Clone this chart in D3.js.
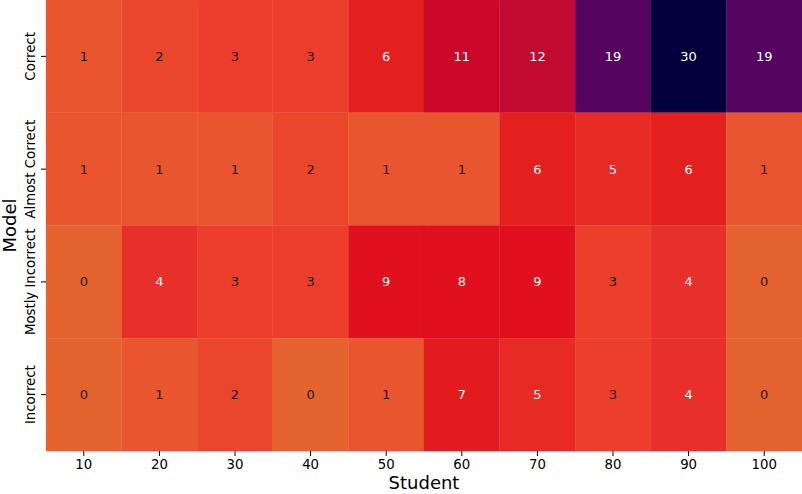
<!DOCTYPE html>
<html>
<head>
<meta charset="utf-8">
<script src="https://cdn.jsdelivr.net/npm/d3@7"></script>
<style>
  html, body { margin: 0; padding: 0; background: #fff; }
  svg text { font-family: "DejaVu Sans", sans-serif; }
</style>
</head>
<body>
<svg id="chart" width="802" height="494"></svg>
<script>
const students = ["10", "20", "30", "40", "50", "60", "70", "80", "90", "100"];
const models = ["Correct", "Almost Correct", "Mostly Incorrect", "Incorrect"];
const correct         = [1, 2, 3, 3, 6, 11, 12, 19, 30, 19];
const almostCorrect   = [1, 1, 1, 2, 1, 1, 6, 5, 6, 1];
const mostlyIncorrect = [0, 4, 3, 3, 9, 8, 9, 3, 4, 0];
const incorrect       = [0, 1, 2, 0, 1, 7, 5, 3, 4, 0];
const rows = [correct, almostCorrect, mostlyIncorrect, incorrect];

// colour stops (value -> colour)
const colorDomain = [0, 1, 2, 3, 4, 5, 6, 7, 8, 9, 11, 12, 19, 30];
const colorRange = ["#e4632f", "#e8552f", "#e9462c", "#ec3e2a", "#e8302a", "#e72a24",
                    "#e4201f", "#e21b1f", "#e0101e", "#e0101e", "#cc0628", "#c20a30", "#550560", "#03003e"];

const svg = d3.select("#chart");
const margin = {left: 46, top: 0, right: 0, bottom: 43};
const W = 802, H = 494;

const x = d3.scaleBand().domain(students).range([margin.left, W - margin.right]);
const y = d3.scaleBand().domain(models).range([margin.top, H - margin.bottom]);
const color = d3.scaleLinear().domain(colorDomain).range(colorRange).clamp(true);

const cells = [];
rows.forEach((vals, i) => vals.forEach((v, j) => cells.push({m: models[i], s: students[j], v})));

svg.append("g").selectAll("rect").data(cells).join("rect")
  .attr("x", d => x(d.s)).attr("y", d => y(d.m))
  .attr("width", x.bandwidth()).attr("height", y.bandwidth())
  .attr("fill", d => color(d.v))
  .attr("stroke", d => color(d.v)).attr("stroke-width", 0.3);

svg.append("g").selectAll("text").data(cells).join("text")
  .attr("x", d => x(d.s) + x.bandwidth() / 2)
  .attr("y", d => y(d.m) + y.bandwidth() / 2)
  .attr("text-anchor", "middle").attr("dominant-baseline", "central")
  .attr("font-size", 13)
  .attr("fill", d => d.v >= 4 ? "#ffffff" : "#1a1a1a")
  .text(d => d.v);

// x axis
const xAxis = svg.append("g").attr("transform", `translate(0,${H - margin.bottom})`)
  .call(d3.axisBottom(x).tickSize(5).tickPadding(4));
xAxis.select(".domain").remove();
xAxis.selectAll("text").attr("font-size", 13.3).attr("fill", "#000").attr("font-family", "DejaVu Sans");
xAxis.selectAll("line").attr("stroke", "#000").attr("stroke-width", 1);

// y axis
const yAxis = svg.append("g").attr("transform", `translate(${margin.left},0)`)
  .call(d3.axisLeft(y).tickSize(5).tickPadding(4));
yAxis.select(".domain").remove();
yAxis.selectAll("line").attr("stroke", "#000").attr("stroke-width", 1);
yAxis.selectAll("text")
  .attr("font-size", 13.3).attr("fill", "#000").attr("font-family", "DejaVu Sans")
  .attr("text-anchor", "middle").attr("dy", null).attr("x", null)
  .attr("transform", "translate(-16,0) rotate(-90)")
  .attr("dominant-baseline", "central");

svg.append("text")
  .attr("x", (margin.left + W) / 2).attr("y", 489)
  .attr("text-anchor", "middle")
  .attr("font-size", 18).attr("fill", "#000").text("Student");

svg.append("text")
  .attr("transform", `translate(11,${(H - margin.bottom) / 2}) rotate(-90)`)
  .attr("text-anchor", "middle").attr("dominant-baseline", "middle")
  .attr("font-size", 18).attr("fill", "#000").text("Model");
</script>
</body>
</html>
